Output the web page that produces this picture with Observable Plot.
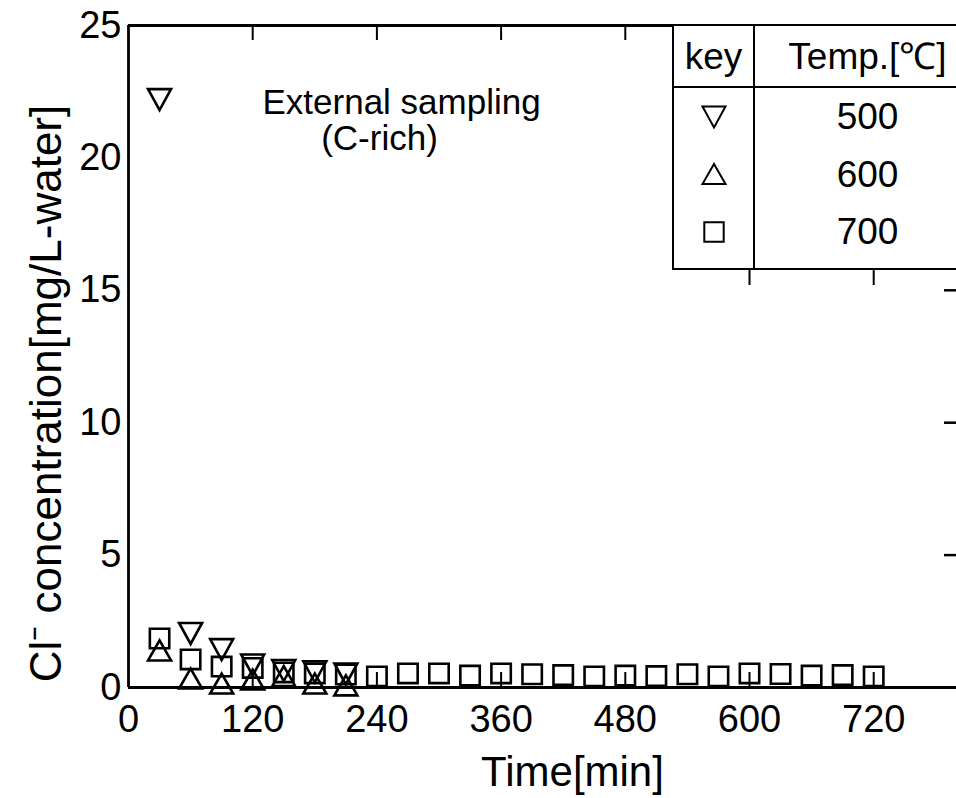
<!DOCTYPE html>
<html>
<head>
<meta charset="utf-8">
<script src="https://cdn.jsdelivr.net/npm/d3@7"></script>
<script src="https://cdn.jsdelivr.net/npm/@observablehq/plot@0.6"></script>
<style>
  html, body { margin: 0; padding: 0; background: #fff; overflow: hidden; }
  #wrap { position: relative; width: 956px; height: 798px; overflow: hidden;
          font-family: "Liberation Sans", Arial, Helvetica, sans-serif; }
  #legend { position: absolute; left: 672px; top: 24px; width: 310px; height: 246px;
            box-sizing: border-box; border: 2.5px solid #000; background: #fff;
            display: grid; grid-template-columns: 81px 1fr; grid-template-rows: 62px 57px 58px 1fr; }
  #legend .cell { display: flex; align-items: center; justify-content: center;
                  font-size: 37px; color: #000; line-height: 1; }
  #legend .key { border-right: 2px solid #000; }
  #legend .head { border-bottom: 2px solid #000; }
  #legend .last { padding-bottom: 8px; }
</style>
</head>
<body>
<div id="wrap"><div id="legend"></div></div>
<script>
// Sampling times [min]
const timesShort = [30, 60, 90, 120, 150, 180, 210];
const timesLong = [30, 60, 90, 120, 150, 180, 210, 240, 270, 300, 330, 360, 390, 420,
                   450, 480, 510, 540, 570, 600, 630, 660, 690, 720];

// Cl- concentration [mg/L-water] per temperature
const conc500 = [22.2, 2.04, 1.43, 0.85, 0.64, 0.59, 0.51];
const conc600 = [1.4, 0.34, 0.15, 0.3, 0.43, 0.15, 0.08];
const conc700 = [1.85, 1.06, 0.79, 0.74, 0.57, 0.53, 0.49, 0.42, 0.53, 0.53, 0.45, 0.53,
                 0.5, 0.47, 0.42, 0.45, 0.43, 0.5, 0.42, 0.53, 0.51, 0.45, 0.47, 0.42];

const temps = [500, 600, 700];
const xTicks = [0, 120, 240, 360, 480, 600, 720];
const yTicks = [0, 5, 10, 15, 20, 25];

// Open marker shapes, centred on their bounding box
const triDown = {draw(ctx, size) {
  const r = Math.sqrt(size / Math.PI);
  const w = 1.15 * r, h = 1.05 * r;
  ctx.moveTo(-w, -h); ctx.lineTo(w, -h); ctx.lineTo(0, h); ctx.closePath();
}};
const triUp = {draw(ctx, size) {
  const r = Math.sqrt(size / Math.PI);
  const w = 1.15 * r, h = 1.0 * r;
  ctx.moveTo(-w, h); ctx.lineTo(w, h); ctx.lineTo(0, -h); ctx.closePath();
}};
const square = {draw(ctx, size) {
  const r = Math.sqrt(size / Math.PI);
  const s = 0.97 * r;
  ctx.rect(-s, -s, 2 * s, 2 * s);
}};
const symbols = [triDown, triUp, square];

const series = [
  timesShort.map((t, i) => ({time: t, value: conc500[i]})),
  timesShort.map((t, i) => ({time: t, value: conc600[i]})),
  timesLong.map((t, i) => ({time: t, value: conc700[i]}))
];

const W = 956, H = 798, mL = 128, mR = 0, mT = 25, mB = 111;
const frameW = W - mL - mR, frameH = H - mT - mB;
const tick = 15;
const font = "Liberation Sans, Arial, Helvetica, sans-serif";

const chart = Plot.plot({
  width: W, height: H,
  marginLeft: mL, marginRight: mR, marginTop: mT, marginBottom: mB,
  style: {fontFamily: font, color: "#000", background: "#fff"},
  x: {domain: [0, 800]},
  y: {domain: [0, 25]},
  marks: [
    // tick labels
    Plot.axisX(xTicks, {anchor: "bottom", tickSize: 0, tickPadding: 18, fontSize: 38, label: null}),
    Plot.axisY(yTicks, {anchor: "left", tickSize: 0, tickPadding: 7, fontSize: 38, label: null}),
    // inward ticks on bottom, top and right edges
    Plot.tickX(xTicks.slice(1), {x: d => d, insetTop: frameH - tick, stroke: "#000", strokeWidth: 2}),
    Plot.tickX(xTicks.slice(1, 5), {x: d => d, insetBottom: frameH - tick, stroke: "#000", strokeWidth: 2}),
    Plot.tickX(xTicks.slice(5), {x: d => d, insetTop: 243, insetBottom: frameH - 260, stroke: "#000", strokeWidth: 2}),
    Plot.tickY(yTicks.slice(1, 4), {y: d => d, insetLeft: frameW - 12, stroke: "#000", strokeWidth: 2.5}),
    // frame lines
    Plot.ruleY([0, 25], {stroke: "#000", strokeWidth: 2.8}),
    Plot.ruleX([0], {stroke: "#000", strokeWidth: 2.8}),
    // data
    ...series.map((data, i) => Plot.dot(data, {
      x: "time", y: "value", symbol: symbols[i], r: 10,
      stroke: "#000", strokeWidth: 2.6, fill: "none"
    })),
    // axis titles
    Plot.text(["Time[min]"], {frameAnchor: "bottom", dx: 30, dy: 98, fontSize: 42,
      textAnchor: "middle", lineAnchor: "bottom"}),
    Plot.text(["Cl⁻ concentration[mg/L-water]"], {frameAnchor: "left", rotate: -90, dx: -82, dy: 37,
      fontSize: 44, textAnchor: "middle", lineAnchor: "middle"}),
    // annotation
    Plot.text(["External sampling"], {frameAnchor: "top-left", dx: 134, dy: 88, fontSize: 35,
      textAnchor: "start", lineAnchor: "bottom"}),
    Plot.text(["(C-rich)"], {frameAnchor: "top-left", dx: 251, dy: 124, fontSize: 35,
      textAnchor: "middle", lineAnchor: "bottom"})
  ]
});
document.getElementById("wrap").prepend(chart);

// Key table: marker and temperature per series
const legend = d3.select("#legend");
legend.append("div").attr("class", "cell key head").text("key");
legend.append("div").attr("class", "cell head").text("Temp.[℃]");
temps.forEach((t, i) => {
  const last = i === temps.length - 1 ? " last" : "";
  const svg = legend.append("div").attr("class", "cell key" + last)
    .append("svg").attr("width", 30).attr("height", 30);
  svg.append("path")
    .attr("transform", "translate(15,15)")
    .attr("d", d3.symbol().type(symbols[i]).size(Math.PI * 100)())
    .attr("fill", "none").attr("stroke", "#000").attr("stroke-width", 2);
  legend.append("div").attr("class", "cell" + last).text(t);
});
</script>
</body>
</html>
